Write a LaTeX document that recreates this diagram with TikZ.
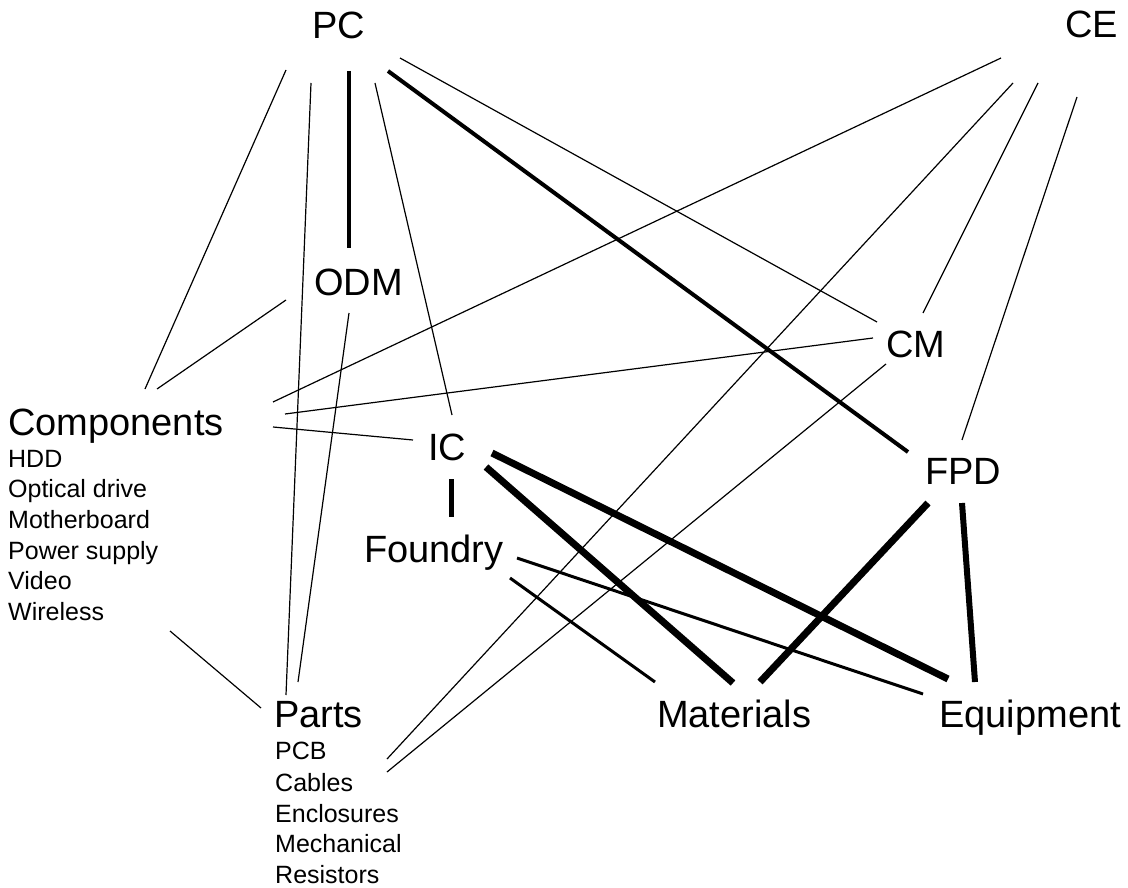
\documentclass[tikz,border=0pt]{standalone}
\usepackage{fontspec}
\setmainfont{Liberation Sans}
\begin{document}
\begin{tikzpicture}[x=1pt,y=-1pt,
  lbl/.style={anchor=base west,inner sep=0pt,font=\fontsize{38}{44}\selectfont},
  item/.style={anchor=base west,inner sep=0pt,font=\fontsize{25}{30}\selectfont},
  thinline/.style={line width=1.2pt},
  midline/.style={line width=3pt},
  thickline/.style={line width=4.6pt},
  heavyline/.style={line width=7pt}]
\useasboundingbox (0,0) rectangle (1128,888);
% main labels
\node[lbl] (PC) at (312,39) {PC};
\node[lbl] (CE) at (1065,38) {CE};
\node[lbl] (ODM) at (314,295) {ODM};
\node[lbl] (CM) at (886,357) {CM};
\node[lbl] (Comp) at (8,435) {Components};
\node[lbl] (IC) at (428,460) {IC};
\node[lbl] (FPD) at (925,484) {FPD};
\node[lbl] (Foundry) at (364,562) {Foundry};
\node[lbl] (Parts) at (274,727) {Parts};
\node[lbl] (Materials) at (657,727) {Materials};
\node[lbl] (Equipment) at (939,727) {Equipment};
% sub lists
\node[item] (c1) at (8,467) {HDD};
\node[item] (c2) at (8,497) {Optical drive};
\node[item] (c3) at (8,528) {Motherboard};
\node[item] (c4) at (8,559) {Power supply};
\node[item] (c5) at (8,589) {Video};
\node[item] (c6) at (8,620) {Wireless};
\node[item] (p1) at (275,759) {PCB};
\node[item] (p2) at (275,791) {Cables};
\node[item] (p3) at (275,822) {Enclosures};
\node[item] (p4) at (275,852) {Mechanical};
\node[item] (p5) at (275,883) {Resistors};
% connector end points (lines stop short of the labels)
\coordinate (pc-comp) at (286,70);   \coordinate (comp-pc) at (145,389);
\coordinate (pc-parts) at (311,83);  \coordinate (parts-pc) at (286,695);
\coordinate (pc-odm) at (349,71);    \coordinate (odm-pc) at (349,248);
\coordinate (pc-ic) at (375,83);     \coordinate (ic-pc) at (452,415);
\coordinate (pc-fpd) at (388,71);    \coordinate (fpd-pc) at (908,452);
\coordinate (pc-cm) at (400,58);     \coordinate (cm-pc) at (877,322);
\coordinate (ce-comp) at (1001,58);  \coordinate (comp-ce) at (273,402);
\coordinate (ce-parts) at (1013,83); \coordinate (parts-ce) at (387,759);
\coordinate (ce-cm) at (1038,83);    \coordinate (cm-ce) at (923,313);
\coordinate (ce-fpd) at (1077,97);   \coordinate (fpd-ce) at (962,440);
\coordinate (odm-comp) at (286,300); \coordinate (comp-odm) at (157,389);
\coordinate (odm-parts) at (349,313);\coordinate (parts-odm) at (298,682);
\coordinate (cm-comp) at (873,338);  \coordinate (comp-cm) at (285,414);
\coordinate (cm-parts) at (886,364); \coordinate (parts-cm) at (387,772);
\coordinate (comp-ic) at (273,427);  \coordinate (ic-comp) at (413,440);
\coordinate (comp-parts) at (170,631); \coordinate (parts-comp) at (261,708);
\coordinate (ic-fdy) at (451,479);   \coordinate (fdy-ic) at (451,517);
\coordinate (ic-mat) at (486,467);   \coordinate (mat-ic) at (733,683);
\coordinate (ic-eq) at (492,453);    \coordinate (eq-ic) at (948,679);
\coordinate (fdy-mat) at (510,578);  \coordinate (mat-fdy) at (655,682);
\coordinate (fdy-eq) at (517,558);   \coordinate (eq-fdy) at (923,694);
\coordinate (fpd-mat) at (928,503);  \coordinate (mat-fpd) at (760,682);
\coordinate (fpd-eq) at (962,503);   \coordinate (eq-fpd) at (975,682);
% connectors
\draw[thinline] (pc-comp) -- (comp-pc);
\draw[thinline] (pc-parts) -- (parts-pc);
\draw[thickline] (pc-odm) -- (odm-pc);
\draw[thinline] (pc-ic) -- (ic-pc);
\draw[line width=4pt] (pc-fpd) -- (fpd-pc);
\draw[thinline] (pc-cm) -- (cm-pc);
\draw[thinline] (ce-comp) -- (comp-ce);
\draw[thinline] (ce-parts) -- (parts-ce);
\draw[thinline] (ce-cm) -- (cm-ce);
\draw[thinline] (ce-fpd) -- (fpd-ce);
\draw[thinline] (odm-comp) -- (comp-odm);
\draw[thinline] (odm-parts) -- (parts-odm);
\draw[thinline] (cm-comp) -- (comp-cm);
\draw[thinline] (cm-parts) -- (parts-cm);
\draw[thinline] (comp-ic) -- (ic-comp);
\draw[thinline] (comp-parts) -- (parts-comp);
\draw[line width=5pt] (ic-fdy) -- (fdy-ic);
\draw[heavyline] (ic-mat) -- (mat-ic);
\draw[heavyline] (ic-eq) -- (eq-ic);
\draw[midline] (fdy-mat) -- (mat-fdy);
\draw[midline] (fdy-eq) -- (eq-fdy);
\draw[heavyline] (fpd-mat) -- (mat-fpd);
\draw[line width=6pt] (fpd-eq) -- (eq-fpd);
\end{tikzpicture}
\end{document}
